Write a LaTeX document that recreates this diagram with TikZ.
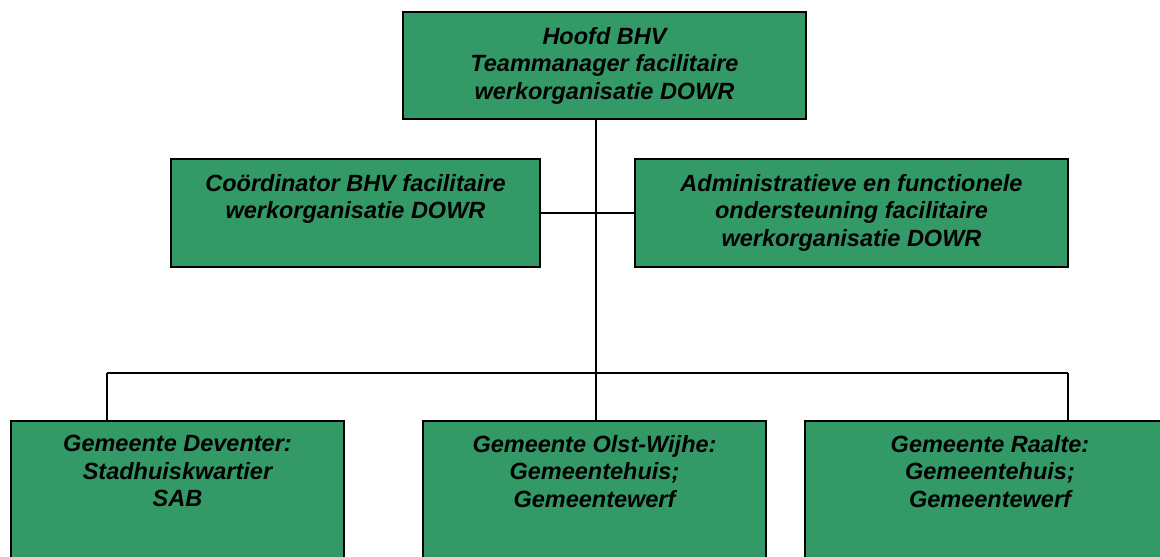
\documentclass[tikz,border=0pt]{standalone}
\usepackage{fontspec}
\setmainfont{Liberation Sans}
\definecolor{boxgreen}{RGB}{51,153,102}
\begin{document}
\begin{tikzpicture}[x=1pt,y=-1pt,
  box/.style={draw=black,line width=1.6pt,fill=boxgreen,rectangle,inner sep=0pt},
  lbl/.style={align=center,inner sep=0pt,anchor=north,
    font=\fontsize{23.5}{27.5}\selectfont\bfseries\itshape},
  conn/.style={draw=black,line width=1.4pt}]
\useasboundingbox (0,0) rectangle (1160,557);
\clip (0,0) rectangle (1160,557);
\fill[white] (0,0) rectangle (1160,557);
% boxes
\node[box,minimum width=403pt,minimum height=107pt] (top) at (604.5,65.5) {};
\node[box,minimum width=369pt,minimum height=108pt] (midL) at (355.5,213) {};
\node[box,minimum width=433pt,minimum height=108pt] (midR) at (851.5,213) {};
\node[box,minimum width=333pt,minimum height=160pt] (b1) at (177.5,501) {};
\node[box,minimum width=343pt,minimum height=160pt] (b2) at (594.5,501) {};
\node[box,minimum width=370pt,minimum height=160pt] (b3) at (990,501) {};
% texts
\node[lbl] (tTop) at ([yshift=-16pt]top.north) {Hoofd BHV\\Teammanager facilitaire\\werkorganisatie DOWR};
\node[lbl] (tMidL) at ([yshift=-16pt]midL.north) {Coördinator BHV facilitaire\\werkorganisatie DOWR};
\node[lbl] (tMidR) at ([yshift=-16pt]midR.north) {Administratieve en functionele\\ondersteuning facilitaire\\werkorganisatie DOWR};
\node[lbl] (tB1) at ([yshift=-15pt]b1.north) {Gemeente Deventer:\\Stadhuiskwartier\\SAB};
\node[lbl] (tB2) at ([yshift=-15pt]b2.north) {Gemeente Olst-Wijhe:\\Gemeentehuis;\\Gemeentewerf};
\node[lbl] (tB3) at ([yshift=-15pt]b3.north) {Gemeente Raalte:\\Gemeentehuis;\\Gemeentewerf};
% connectors
\coordinate (trunk) at (596,373);
\coordinate (busL) at (107,373);
\coordinate (busR) at (1068,373);
\draw[conn] (trunk |- top.south) -- (trunk);
\draw[conn] (midL.east) -- (midR.west);
\draw[conn] (busL) -- (busR);
\draw[conn] (busL) -- (busL |- b1.north);
\draw[conn] (trunk) -- (trunk |- b2.north);
\draw[conn] (busR) -- (busR |- b3.north);
\end{tikzpicture}
\end{document}
